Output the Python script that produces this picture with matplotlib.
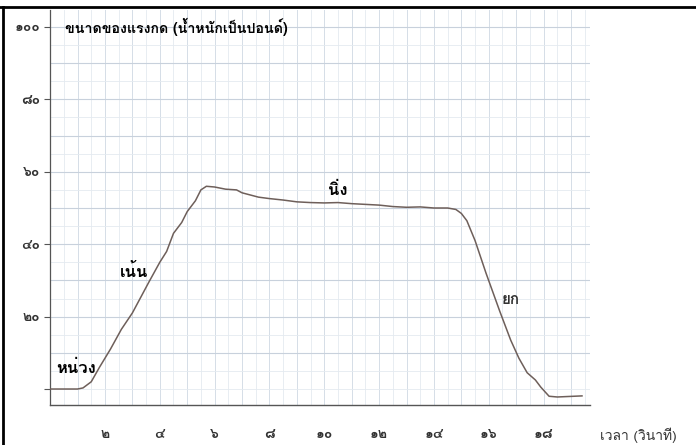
import matplotlib
matplotlib.use("Agg")
import matplotlib.pyplot as plt
from matplotlib import font_manager
from matplotlib.ft2font import FT2Font
from matplotlib.lines import Line2D
import matplotlib.patheffects as pe
import numpy as np

# find installed families that have Thai glyphs, and which weights they have
thai_weights = {}
for f in font_manager.fontManager.ttflist:
    try:
        cmap = FT2Font(f.fname).get_charmap()
    except Exception:
        continue
    if 0x0E01 in cmap and 0x0E19 in cmap:
        w = f.weight if isinstance(f.weight, int) else 400
        thai_weights.setdefault(f.name, set()).add(w)

with_bold = [n for n, ws in thai_weights.items() if max(ws) >= 600]
preferred = ["Noto Sans Thai", "Noto Sans Thai UI", "Loma", "Garuda"]
thai_family = None
for name in preferred:
    if name in with_bold:
        thai_family = name
        break
if thai_family is None and with_bold:
    thai_family = with_bold[0]
has_bold = thai_family is not None
if thai_family is None:
    for name in preferred:
        if name in thai_weights:
            thai_family = name
            break
if thai_family is None and thai_weights:
    thai_family = list(thai_weights)[0]

families = [thai_family, "DejaVu Sans"] if thai_family else ["DejaVu Sans"]
plt.rcParams["font.family"] = families

# fake a heavier stroke if the family has no bold face
if has_bold:
    heavy = []
else:
    heavy = [pe.withStroke(linewidth=0.9, foreground="#222222")]

# force curve (time in s, force in pounds)
time = [0, 0.5, 1.0, 1.2, 1.5, 1.8, 2.2, 2.6, 3.0, 3.6, 4.0, 4.25, 4.5, 4.8,
        5.0, 5.3, 5.5, 5.7, 6.0, 6.4, 6.8, 7.0, 7.3, 7.6, 8.0, 8.5, 9.0, 9.5,
        10.0, 10.5, 11.0, 11.5, 12.0, 12.5, 13.0, 13.5, 14.0, 14.5, 14.8, 15.0,
        15.2, 15.5, 15.9, 16.4, 16.8, 17.1, 17.4, 17.7, 17.9, 18.2, 18.5, 19.4]
force = [0, 0, 0, 0.3, 2, 6, 11, 16.5, 21, 29.5, 35, 38, 43, 46,
         49, 52, 55, 56, 55.8, 55.2, 55, 54.2, 53.6, 53, 52.6, 52.2, 51.7, 51.5,
         51.4, 51.5, 51.2, 51, 50.8, 50.4, 50.2, 50.3, 50, 50, 49.6, 48.5,
         46.5, 41, 32, 21.5, 13.5, 8.5, 4.5, 2.5, 0.5, -2, -2.2, -1.9]

y_ticks = [0, 20, 40, 60, 80, 100]
y_labels = ["", "๒๐", "๔๐", "๖๐", "๘๐", "๑๐๐"]
x_ticks = [2, 4, 6, 8, 10, 12, 14, 16, 18]
x_labels = ["๒", "๔", "๖", "๘", "๑๐", "๑๒", "๑๔", "๑๖", "๑๘"]

fig = plt.figure(figsize=(6.96, 4.45), dpi=100)
ax = fig.add_axes([0.072, 0.09, 0.776, 0.8876])

# graph paper grid
for xv in np.arange(0.5, 19.75, 0.5):
    ax.axvline(xv, color="#e4eaf0", lw=0.6, zorder=0)
for xv in range(1, 20):
    ax.axvline(xv, color="#d6dee7", lw=0.7, zorder=0)
for yv in np.arange(-5, 105, 5):
    ax.axhline(yv, color="#e4eaf0", lw=0.6, zorder=0)
for yv in range(10, 101, 10):
    ax.axhline(yv, color="#c8d1dc", lw=0.8, zorder=0)

ax.plot(time, force, color="#6e5f5a", lw=1.1, zorder=3)

ax.set_xlim(0, 19.7)
ax.set_ylim(-4.4, 104.7)
ax.set_xticks(x_ticks)
ax.set_xticklabels(x_labels, fontsize=10, fontweight="bold", color="#333333")
ax.set_yticks(y_ticks)
ax.set_yticklabels(y_labels, fontsize=10, fontweight="bold", color="#333333")
ax.tick_params(axis="x", length=0, pad=17)
ax.tick_params(axis="y", length=4, width=0.8, color="#555555", pad=3)
for lab in ax.get_xticklabels() + ax.get_yticklabels():
    lab.set_path_effects(heavy)

for s in ["top", "right"]:
    ax.spines[s].set_visible(False)
ax.spines["left"].set_color("#555555")
ax.spines["bottom"].set_color("#555555")
ax.spines["left"].set_linewidth(0.9)
ax.spines["bottom"].set_linewidth(1.0)

ax.text(0.55, 100, "ขนาดของแรงกด (น้ำหนักเป็นปอนด์)", fontsize=10.2,
        fontweight="bold", va="center", ha="left", path_effects=heavy)
ax.text(0.95, 5.8, "หน่วง", fontsize=12, fontweight="bold", ha="center",
        va="center", path_effects=heavy)
ax.text(3.05, 32.5, "เน้น", fontsize=12, fontweight="bold", ha="center",
        va="center", path_effects=heavy)
ax.text(10.5, 55, "นิ่ง", fontsize=12, fontweight="bold", ha="center",
        va="center", path_effects=heavy)
ax.text(16.8, 24.6, "ยก", fontsize=11, fontweight="bold", ha="center",
        va="center", color="#333333", path_effects=heavy)

fig.text(600 / 696, 1 - 435 / 445, "เวลา (วินาที)", fontsize=10,
         color="#333333", ha="left", va="center")

# scan frame
fig.add_artist(Line2D([0, 1], [1 - 7 / 445, 1 - 7 / 445], color="black", lw=2))
fig.add_artist(Line2D([3 / 696, 3 / 696], [0, 1 - 7 / 445], color="black", lw=2))

fig.savefig("out.png", dpi=100)
